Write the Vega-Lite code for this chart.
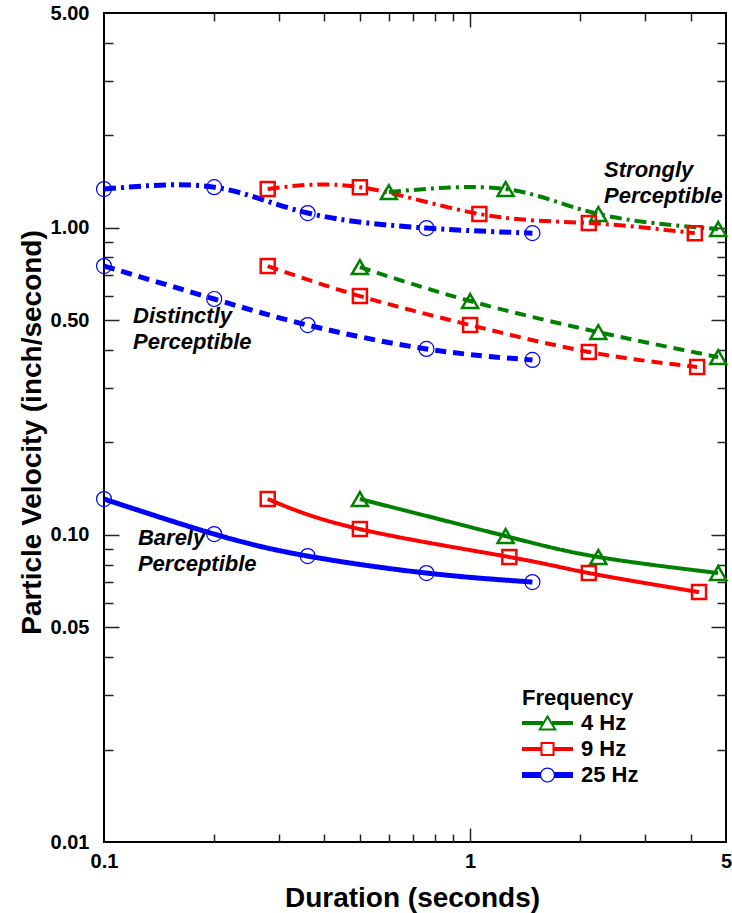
{
  "$schema": "https://vega.github.io/schema/vega-lite/v6.json",
  "width": 622,
  "height": 829,
  "autosize": "none",
  "padding": {"left": 104, "top": 13, "right": 6, "bottom": 71},
  "config": {
    "font": "Liberation Sans",
    "view": {"stroke": "black", "strokeWidth": 2}
  },
  "datasets": {
    "main": [
      {"freq": "4 Hz", "level": "Strongly", "dur": 0.60, "vel": 1.306},
      {"freq": "4 Hz", "level": "Strongly", "dur": 1.25, "vel": 1.336},
      {"freq": "4 Hz", "level": "Strongly", "dur": 2.24, "vel": 1.108},
      {"freq": "4 Hz", "level": "Strongly", "dur": 4.76, "vel": 0.990},
      {"freq": "4 Hz", "level": "Distinctly", "dur": 0.50, "vel": 0.744},
      {"freq": "4 Hz", "level": "Distinctly", "dur": 1.0, "vel": 0.577},
      {"freq": "4 Hz", "level": "Distinctly", "dur": 2.24, "vel": 0.457},
      {"freq": "4 Hz", "level": "Distinctly", "dur": 4.76, "vel": 0.379},
      {"freq": "4 Hz", "level": "Barely", "dur": 0.50, "vel": 0.1308},
      {"freq": "4 Hz", "level": "Barely", "dur": 1.25, "vel": 0.0991},
      {"freq": "4 Hz", "level": "Barely", "dur": 2.24, "vel": 0.0847},
      {"freq": "4 Hz", "level": "Barely", "dur": 4.76, "vel": 0.0751},
      {"freq": "9 Hz", "level": "Strongly", "dur": 0.28, "vel": 1.336},
      {"freq": "9 Hz", "level": "Strongly", "dur": 0.50, "vel": 1.355},
      {"freq": "9 Hz", "level": "Strongly", "dur": 1.06, "vel": 1.108},
      {"freq": "9 Hz", "level": "Strongly", "dur": 2.11, "vel": 1.035},
      {"freq": "9 Hz", "level": "Strongly", "dur": 4.11, "vel": 0.960},
      {"freq": "9 Hz", "level": "Distinctly", "dur": 0.28, "vel": 0.750},
      {"freq": "9 Hz", "level": "Distinctly", "dur": 0.50, "vel": 0.599},
      {"freq": "9 Hz", "level": "Distinctly", "dur": 1.0, "vel": 0.482},
      {"freq": "9 Hz", "level": "Distinctly", "dur": 2.11, "vel": 0.394},
      {"freq": "9 Hz", "level": "Distinctly", "dur": 4.17, "vel": 0.352},
      {"freq": "9 Hz", "level": "Barely", "dur": 0.28, "vel": 0.1308},
      {"freq": "9 Hz", "level": "Barely", "dur": 0.50, "vel": 0.1044},
      {"freq": "9 Hz", "level": "Barely", "dur": 1.28, "vel": 0.0847},
      {"freq": "9 Hz", "level": "Barely", "dur": 2.11, "vel": 0.0751},
      {"freq": "9 Hz", "level": "Barely", "dur": 4.22, "vel": 0.0651},
      {"freq": "25 Hz", "level": "Strongly", "dur": 0.1, "vel": 1.336},
      {"freq": "25 Hz", "level": "Strongly", "dur": 0.2, "vel": 1.355},
      {"freq": "25 Hz", "level": "Strongly", "dur": 0.36, "vel": 1.116},
      {"freq": "25 Hz", "level": "Strongly", "dur": 0.76, "vel": 0.997},
      {"freq": "25 Hz", "level": "Strongly", "dur": 1.48, "vel": 0.960},
      {"freq": "25 Hz", "level": "Distinctly", "dur": 0.1, "vel": 0.750},
      {"freq": "25 Hz", "level": "Distinctly", "dur": 0.2, "vel": 0.586},
      {"freq": "25 Hz", "level": "Distinctly", "dur": 0.36, "vel": 0.482},
      {"freq": "25 Hz", "level": "Distinctly", "dur": 0.76, "vel": 0.403},
      {"freq": "25 Hz", "level": "Distinctly", "dur": 1.48, "vel": 0.371},
      {"freq": "25 Hz", "level": "Barely", "dur": 0.1, "vel": 0.1308},
      {"freq": "25 Hz", "level": "Barely", "dur": 0.2, "vel": 0.1006},
      {"freq": "25 Hz", "level": "Barely", "dur": 0.36, "vel": 0.0853},
      {"freq": "25 Hz", "level": "Barely", "dur": 0.76, "vel": 0.0751},
      {"freq": "25 Hz", "level": "Barely", "dur": 1.48, "vel": 0.0702}
    ],
    "notes": [
      {"label": "Strongly\nPerceptible", "dur": 2.323, "vel": 1.461},
      {"label": "Distinctly\nPerceptible", "dur": 0.12, "vel": 0.489},
      {"label": "Barely\nPerceptible", "dur": 0.1238, "vel": 0.0926}
    ]
  },
  "resolve": {"axis": {"x": "independent", "y": "independent"}},
  "layer": [
    {
      "data": {"name": "main"},
      "transform": [{"filter": "datum.freq !== '25 Hz'"}],
      "mark": {"type": "line", "interpolate": "natural", "strokeWidth": 4},
      "encoding": {
        "x": {
          "field": "dur", "type": "quantitative",
          "scale": {"type": "log", "domain": [0.1, 5], "nice": false},
          "axis": {
            "orient": "bottom", "values": [0.1, 1, 5], "labelExpr": "datum.value + ''",
            "ticks": false, "domain": false, "grid": false,
            "labelFont": "Liberation Sans", "labelFontSize": 20, "labelFontWeight": "bold", "labelColor": "black",
            "labelPadding": 9, "labelFlush": false, "labelOverlap": false, "labelBaseline": "top",
            "title": "Duration (seconds)", "titleFont": "Liberation Sans", "titleFontSize": 28, "titleFontWeight": "bold",
            "titleColor": "black", "titleX": 308, "titleY": 64, "titleAlign": "center", "titleBaseline": "alphabetic"
          }
        },
        "y": {
          "field": "vel", "type": "quantitative",
          "scale": {"type": "log", "domain": [0.01, 5], "nice": false},
          "axis": {
            "orient": "left", "values": [0.01, 0.05, 0.1, 0.5, 1, 5], "format": ".2f",
            "ticks": false, "domain": false, "grid": false,
            "labelFont": "Liberation Sans", "labelFontSize": 20, "labelFontWeight": "bold", "labelColor": "black",
            "labelPadding": 15, "labelOverlap": false, "labelFlush": false,
            "title": "Particle Velocity (inch/second)", "titleFont": "Liberation Sans", "titleFontSize": 28, "titleFontWeight": "bold",
            "titleColor": "black", "titleAngle": -90, "titleX": -72, "titleY": 419, "titleAlign": "center", "titleBaseline": "middle"
          }
        },
        "color": {
          "field": "freq", "type": "nominal",
          "scale": {"domain": ["4 Hz", "9 Hz", "25 Hz"], "range": ["#008000", "#ff0000", "#0000ff"]},
          "legend": {
            "orient": "none", "legendX": 418, "legendY": 675, "padding": 0,
            "title": "Frequency", "titleFont": "Liberation Sans", "titleFontSize": 22, "titleFontWeight": "bold", "titleColor": "black", "titlePadding": 2,
            "labelFont": "Liberation Sans", "labelFontSize": 22, "labelFontWeight": "bold", "labelColor": "black",
            "symbolSize": 400, "symbolStrokeWidth": 0, "symbolStrokeColor": "transparent", "symbolOffset": 14.5, "labelOffset": 22.5, "rowPadding": 4,
            "encode": {
              "symbols": {
                "update": {
                  "shape": {"signal": "datum.value === '4 Hz' ? 'M-2.55,-0.2H-0.45V0.2H-2.55Z M0.45,-0.2H2.55V0.2H0.45Z M0,-0.85L0.95,0.75L-0.95,0.75Z M0,-0.46L-0.6,0.55L0.6,0.55Z' : datum.value === '9 Hz' ? 'M-2.55,-0.2H-0.6V0.2H-2.55Z M0.6,-0.2H2.55V0.2H0.6Z M-0.7,-0.7H0.7V0.7H-0.7Z M-0.5,-0.5V0.5H0.5V-0.5Z' : 'M-2.55,-0.3H-0.7V0.3H-2.55Z M0.7,-0.3H2.55V0.3H0.7Z M-0.75,0A0.75,0.75 0 1 1 0.75,0A0.75,0.75 0 1 1 -0.75,0Z M-0.63,0A0.63,0.63 0 1 0 0.63,0A0.63,0.63 0 1 0 -0.63,0Z'"},
                  "fill": {"signal": "datum.value === '4 Hz' ? '#008000' : datum.value === '9 Hz' ? '#ff0000' : '#0000ff'"},
                  "fillOpacity": {"value": 1},
                  "stroke": {"value": "transparent"},
                  "strokeWidth": {"value": 0},
                  "opacity": {"value": 1}
                }
              }
            }
          }
        },
        "strokeDash": {
          "field": "level", "type": "nominal",
          "scale": {"domain": ["Strongly", "Distinctly", "Barely"], "range": [[12, 5, 3, 5], [11, 7], [1, 0]]},
          "legend": null
        }
      }
    },
    {
      "data": {"name": "main"},
      "transform": [{"filter": "datum.freq === '25 Hz'"}],
      "mark": {"type": "line", "interpolate": "natural", "strokeWidth": 5},
      "encoding": {
        "x": {"field": "dur", "type": "quantitative", "axis": null},
        "y": {"field": "vel", "type": "quantitative", "axis": null},
        "color": {"field": "freq", "type": "nominal", "legend": null},
        "strokeDash": {"field": "level", "type": "nominal", "legend": null}
      }
    },
    {
      "data": {"name": "main"},
      "transform": [{"filter": "datum.freq === '4 Hz'"}],
      "mark": {"type": "point", "shape": "triangle-up", "size": 256, "filled": false, "color": "#008000", "strokeWidth": 2.5, "opacity": 1},
      "encoding": {
        "x": {"field": "dur", "type": "quantitative", "axis": {"orient": "bottom", "values": [0.2, 0.3, 0.4, 0.5, 0.6, 0.7, 0.8, 0.9, 2, 3, 4], "labels": false, "domain": false, "grid": false, "ticks": true, "tickSize": -8, "tickColor": "#222222", "tickWidth": 1.5, "title": null}},
        "y": {"field": "vel", "type": "quantitative", "axis": {"orient": "left", "values": [0.02, 0.03, 0.04, 0.06, 0.07, 0.08, 0.09, 0.2, 0.3, 0.4, 0.6, 0.7, 0.8, 0.9, 2, 3, 4], "labels": false, "domain": false, "grid": false, "ticks": true, "tickSize": -9, "tickColor": "#222222", "tickWidth": 1.5, "title": null}}
      }
    },
    {
      "data": {"name": "main"},
      "transform": [{"filter": "datum.freq === '9 Hz'"}],
      "mark": {"type": "point", "shape": "square", "size": 196, "filled": false, "color": "#ff0000", "strokeWidth": 2.5, "opacity": 1},
      "encoding": {
        "x": {"field": "dur", "type": "quantitative", "axis": {"orient": "bottom", "values": [1], "labels": false, "domain": false, "grid": false, "ticks": true, "tickSize": -14, "tickColor": "#222222", "tickWidth": 1.5, "title": null}},
        "y": {"field": "vel", "type": "quantitative", "axis": {"orient": "left", "values": [0.05, 0.1, 0.5, 1], "labels": false, "domain": false, "grid": false, "ticks": true, "tickSize": -15, "tickColor": "#222222", "tickWidth": 1.5, "title": null}}
      }
    },
    {
      "data": {"name": "main"},
      "transform": [{"filter": "datum.freq === '25 Hz'"}],
      "mark": {"type": "point", "shape": "circle", "size": 225, "filled": false, "color": "#0000ff", "strokeWidth": 1.2, "opacity": 1},
      "encoding": {
        "x": {"field": "dur", "type": "quantitative", "axis": {"orient": "top", "values": [0.2, 0.3, 0.4, 0.5, 0.6, 0.7, 0.8, 0.9, 2, 3, 4], "labels": false, "domain": false, "grid": false, "ticks": true, "tickSize": -8, "tickColor": "#222222", "tickWidth": 1.5, "title": null}},
        "y": {"field": "vel", "type": "quantitative", "axis": {"orient": "right", "values": [0.02, 0.03, 0.04, 0.06, 0.07, 0.08, 0.09, 0.2, 0.3, 0.4, 0.6, 0.7, 0.8, 0.9, 2, 3, 4], "labels": false, "domain": false, "grid": false, "ticks": true, "tickSize": -9, "tickColor": "#222222", "tickWidth": 1.5, "title": null}}
      }
    },
    {
      "data": {"name": "notes"},
      "mark": {"type": "text", "align": "left", "baseline": "alphabetic", "font": "Liberation Sans", "fontSize": 22, "fontStyle": "italic", "fontWeight": "bold", "lineBreak": "\n", "lineHeight": 26, "color": "black"},
      "encoding": {
        "x": {"field": "dur", "type": "quantitative", "axis": {"orient": "top", "values": [1], "labels": false, "domain": false, "grid": false, "ticks": true, "tickSize": -14, "tickColor": "#222222", "tickWidth": 1.5, "title": null}},
        "y": {"field": "vel", "type": "quantitative", "axis": {"orient": "right", "values": [0.05, 0.1, 0.5, 1], "labels": false, "domain": false, "grid": false, "ticks": true, "tickSize": -15, "tickColor": "#222222", "tickWidth": 1.5, "title": null}},
        "text": {"field": "label", "type": "nominal"}
      }
    }
  ]
}
